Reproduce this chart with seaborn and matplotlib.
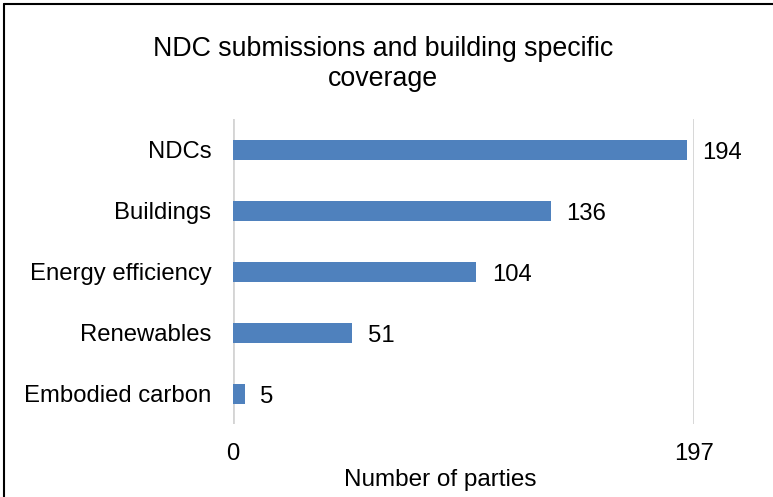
import matplotlib
matplotlib.use("Agg")
import matplotlib.pyplot as plt
import seaborn as sns
import pandas as pd
from matplotlib.lines import Line2D

# dados
categorias = ["NDCs", "Buildings", "Energy efficiency", "Renewables", "Embodied carbon"]
valores = [194, 136, 104, 51, 5]
ticks_x = [0, 197]
titulo = "NDC submissions and building specific\ncoverage"
rotulo_x = "Number of parties"

df = pd.DataFrame({"categoria": categorias, "valor": valores})

sns.set_theme(style="white")
plt.rcParams["font.family"] = ["Liberation Sans", "DejaVu Sans"]

fig = plt.figure(figsize=(7.73, 4.97), dpi=100)
ax = fig.add_axes([0.3014, 0.1459, 0.5964, 0.6137])

sns.barplot(data=df, y="categoria", x="valor", orient="h", color="#4f81bd",
            saturation=1, width=0.33, edgecolor="none", ax=ax)

ax.set_xlim(ticks_x[0], ticks_x[-1])
ax.set_ylim(4.5, -0.5)
ax.set_xticks(ticks_x)
ax.set_xticklabels([str(t) for t in ticks_x])
for t in ticks_x:
    ax.axvline(t, color="#d4d4d4", lw=2, zorder=0)

for s in ax.spines.values():
    s.set_visible(False)
ax.tick_params(axis="both", length=0, labelsize=17.2, colors="black")
ax.tick_params(axis="y", pad=15.5)
ax.tick_params(axis="x", pad=13.5)
ax.set_ylabel("")
ax.set_xlabel(rotulo_x, fontsize=17.5, color="black")
ax.xaxis.set_label_coords(0.449, -0.146)

for cont in ax.containers:
    rot = ax.bar_label(cont, labels=[str(v) for v in valores], padding=11,
                       fontsize=17.2, color="black")
    for r in rot:
        dx, dy = r.xyann
        r.xyann = (dx, dy - 2)

fig.text(0.496, 0.928, titulo, ha="center", va="top", fontsize=19.3,
         linespacing=1.2, color="black")

# moldura da figura
fig.add_artist(Line2D([4 / 773, 1], [1 - 4 / 497, 1 - 4 / 497], color="black", lw=1.5,
                      transform=fig.transFigure))
fig.add_artist(Line2D([4 / 773, 4 / 773], [0, 1 - 4 / 497], color="black", lw=1.5,
                      transform=fig.transFigure))

plt.savefig("out.png", dpi=100)
